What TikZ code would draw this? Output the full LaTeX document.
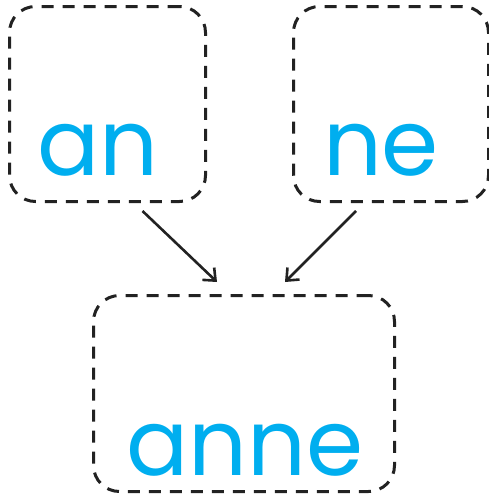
\documentclass[tikz,border=0pt]{standalone}
\usepackage{fontspec}
\setmainfont{Poppins}
\usetikzlibrary{arrows.meta,calc}
\definecolor{wordblue}{HTML}{00AEEF}
\definecolor{inkline}{HTML}{222222}
\tikzset{
  wordbox/.style={draw=inkline, line width=3pt, dash pattern=on 12pt off 9pt, rounded corners=26pt, inner sep=0pt, anchor=north west},
  word/.style={text=wordblue, font=\fontsize{92}{92}\selectfont, inner sep=0pt, text depth=0pt, anchor=base},
  link/.style={draw=inkline, line width=2.6pt, -{Straight Barb[length=10pt,width=17pt,line width=2.6pt]}}
}
\begin{document}
\begin{tikzpicture}[x=1pt,y=-1pt]
\useasboundingbox (0,0) rectangle (488,498);
\node[wordbox, minimum width=196pt, minimum height=195pt] (boxa) at (8,5) {};
\node[wordbox, minimum width=195pt, minimum height=195pt] (boxb) at (292,5) {};
\node[wordbox, minimum width=301pt, minimum height=196pt] (boxc) at (92,294) {};
\node[word] (an) at (98,175) {an};
\node[word] (ne) at (381,175) {ne};
\node[word] (anne) at (245,475) {anne};
\coordinate (s1) at ($(boxa.south)+(35,8)$);
\coordinate (e1) at ($(boxc.north)+(-27,-12)$);
\coordinate (s2) at ($(boxb.south)+(-35,8)$);
\coordinate (e2) at ($(boxc.north)+(41,-12)$);
\draw[link] (s1) -- (e1);
\draw[link] (s2) -- (e2);
\end{tikzpicture}
\end{document}
